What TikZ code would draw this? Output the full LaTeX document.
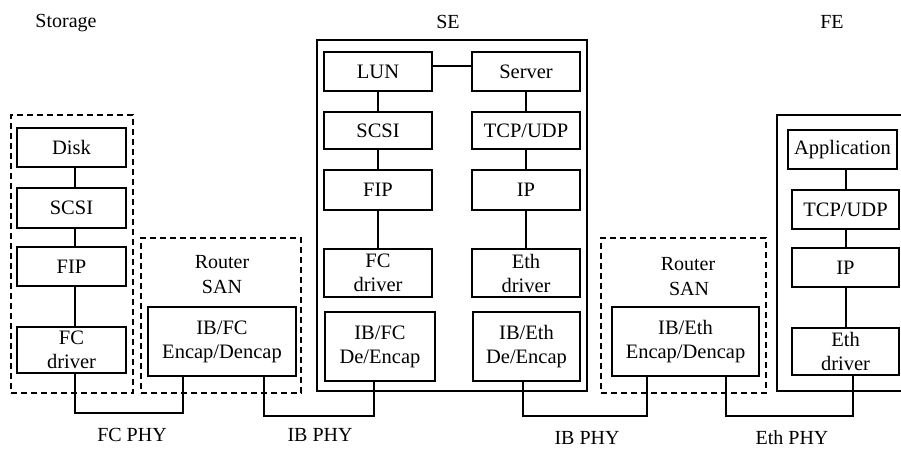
\documentclass[tikz,border=0pt]{standalone}
\usepackage{fontspec}
\setmainfont{Liberation Serif}
\newcommand\mybox[7][box]{%
  \node[#1, minimum width={(#5-#3)*1pt}, minimum height={(#6-#4)*1pt}] (#2) at ({(#3+#5)/2},{(#4+#6)/2}) {#7};}
\begin{document}
\begin{tikzpicture}[x=1pt,y=-1pt, line width=1.5pt,
  box/.style={draw, rectangle, inner sep=0pt, align=center, font=\fontsize{20.5}{24}\selectfont},
  dbox/.style={draw, rectangle, inner sep=0pt, dash pattern=on 6pt off 4pt},
  frame/.style={draw, rectangle, inner sep=0pt},
  lbl/.style={font=\fontsize{20}{24}\selectfont, inner sep=0pt, anchor=base}]
\useasboundingbox (0,0) rectangle (901,449);
\clip (0,0) rectangle (901,449);

% containers
\mybox[dbox]{storage}{11}{115}{133}{393}{}
\mybox[dbox]{router1}{141}{238}{301}{393}{}
\mybox[dbox]{router2}{601}{238}{766}{393}{}
\mybox[frame]{se}{317}{40}{587}{391}{}
\mybox[frame]{fe}{777}{115}{915}{391}{}

% titles
\node[lbl] (tStorage) at (66,28) {Storage};
\node[lbl] (tSE) at (448,29) {SE};
\node[lbl] (tFE) at (832,29) {FE};
\node[lbl] (r1a) at (222,268) {Router};
\node[lbl] (r1b) at (222,293) {SAN};
\node[lbl] (r2a) at (688,270) {Router};
\node[lbl] (r2b) at (689,295) {SAN};

% Storage stack
\mybox{disk}{17}{128}{126}{167}{Disk}
\mybox{scsiA}{17}{188}{126}{228}{SCSI}
\mybox{fipA}{17}{247}{126}{286}{FIP}
\mybox{fcdA}{17}{327}{126}{373}{FC\\driver}

% Router 1
\mybox{ibfcR}{148}{307}{296}{376}{IB/FC\\Encap/Dencap}

% SE
\mybox{lun}{324}{52}{432}{91}{LUN}
\mybox{server}{472}{52}{580}{91}{Server}
\mybox{scsiB}{324}{112}{432}{149}{SCSI}
\mybox{tcpB}{472}{112}{580}{149}{TCP/UDP}
\mybox{fipB}{324}{170}{432}{210}{FIP}
\mybox{ipB}{472}{170}{580}{210}{IP}
\mybox{fcdB}{324}{249}{432}{297}{FC\\driver}
\mybox{ethdB}{472}{249}{580}{297}{Eth\\driver}
\mybox{ibfcB}{325}{312}{435}{381}{IB/FC\\De/Encap}
\mybox{ibethB}{473}{312}{580}{381}{IB/Eth\\De/Encap}

% Router 2
\mybox{ibethR}{612}{307}{759}{376}{IB/Eth\\Encap/Dencap}

% FE
\mybox{app}{788}{130}{897}{169}{Application}
\mybox{tcpC}{792}{190}{899}{229}{TCP/UDP}
\mybox{ipC}{792}{248}{899}{287}{IP}
\mybox{ethdC}{792}{328}{899}{375}{Eth\\driver}

% column coordinates
\coordinate (cA) at (75,0);
\coordinate (cB1) at (378,0);
\coordinate (cB2) at (526,0);
\coordinate (cC) at (846,0);
\coordinate (ls) at (0,66);

% vertical stack links
\draw (disk.south -| cA) -- (scsiA.north -| cA);
\draw (scsiA.south -| cA) -- (fipA.north -| cA);
\draw (fipA.south -| cA) -- (fcdA.north -| cA);
\draw (lun.east |- ls) -- (server.west |- ls);
\draw (lun.south -| cB1) -- (scsiB.north -| cB1);
\draw (scsiB.south -| cB1) -- (fipB.north -| cB1);
\draw (fipB.south -| cB1) -- (fcdB.north -| cB1);
\draw (server.south -| cB2) -- (tcpB.north -| cB2);
\draw (tcpB.south -| cB2) -- (ipB.north -| cB2);
\draw (ipB.south -| cB2) -- (ethdB.north -| cB2);
\draw (app.south -| cC) -- (tcpC.north -| cC);
\draw (tcpC.south -| cC) -- (ipC.north -| cC);
\draw (ipC.south -| cC) -- (ethdC.north -| cC);

% physical links
\coordinate (p1) at (183,413);
\coordinate (q1) at (264,0);
\coordinate (p2) at (374,416);
\coordinate (q2) at (523,0);
\coordinate (p3) at (647,416);
\coordinate (q3) at (726,0);
\coordinate (p4) at (853,416);
\draw (fcdA.south -| cA) |- (p1) -- (ibfcR.south -| p1);
\draw (ibfcR.south -| q1) |- (p2) -- (ibfcB.south -| p2);
\draw (ibethB.south -| q2) |- (p3) -- (ibethR.south -| p3);
\draw (ibethR.south -| q3) |- (p4) -- (ethdC.south -| p4);

% PHY labels
\node[lbl] (lFC) at (132,441) {FC PHY};
\node[lbl] (lIB1) at (320,441) {IB PHY};
\node[lbl] (lIB2) at (587,444) {IB PHY};
\node[lbl] (lEth) at (792,444) {Eth PHY};
\end{tikzpicture}
\end{document}
